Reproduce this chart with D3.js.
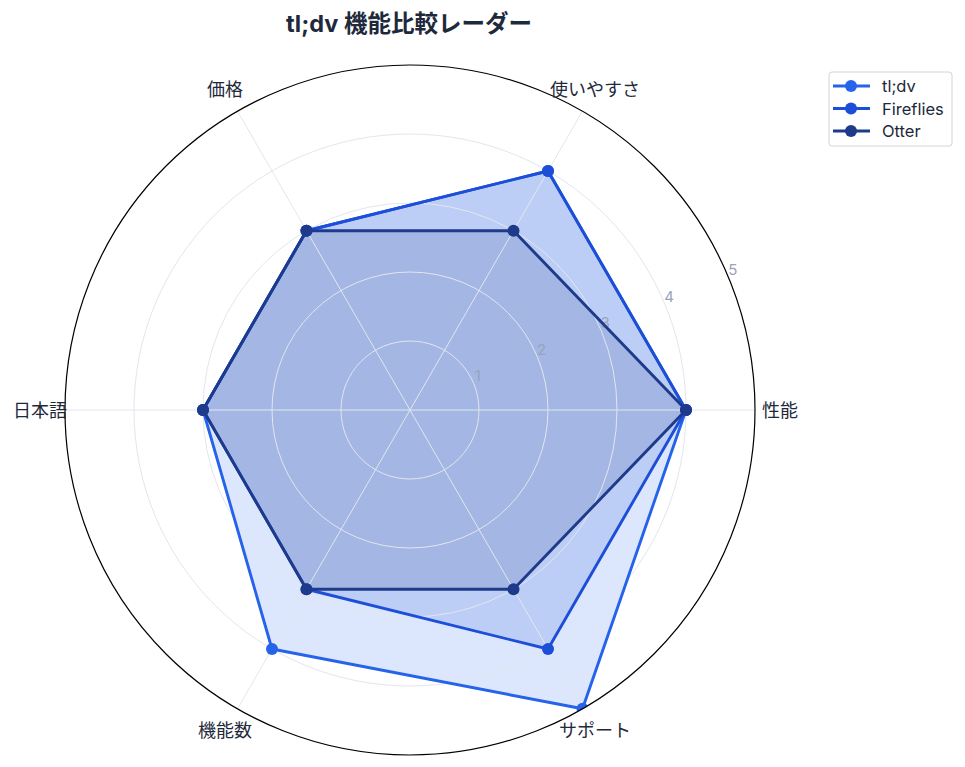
<!DOCTYPE html>
<html>
<head>
<meta charset="utf-8">
<script src="https://cdn.jsdelivr.net/npm/d3@7"></script>
<style>
  body { margin: 0; background: #fff; }
  text { font-family: Inter, "Noto Sans CJK JP", sans-serif; }
</style>
</head>
<body>
<div id="vis"></div>
<script>
const FRAME_WIDTH = 965;
const FRAME_HEIGHT = 767;
const CENTER = {x: 410, y: 410};
const RADIUS = 345;

// data
const CATEGORIES = ["性能", "使いやすさ", "価格", "日本語", "機能数", "サポート"];
const SERIES_NAMES = ["tl;dv", "Fireflies", "Otter"];
const TLDV_VALUES = [4, 4, 3, 3, 4, 5];
const FIREFLIES_VALUES = [4, 4, 3, 3, 3, 4];
const OTTER_VALUES = [4, 3, 3, 3, 3, 3];
const R_TICKS = [1, 2, 3, 4, 5];

const SERIES = [
  {name: SERIES_NAMES[0], values: TLDV_VALUES, color: "#2563eb"},
  {name: SERIES_NAMES[1], values: FIREFLIES_VALUES, color: "#1d4ed8"},
  {name: SERIES_NAMES[2], values: OTTER_VALUES, color: "#1e3a8a"}
];

const SVG = d3.select("#vis")
  .append("svg")
    .attr("width", FRAME_WIDTH)
    .attr("height", FRAME_HEIGHT);

const R_SCALE = d3.scaleLinear().domain([0, 5]).range([0, RADIUS]);

// category angle: counter-clockwise from 3 o'clock, converted to d3 (clockwise from 12)
const A_SCALE = d3.scaleLinear()
  .domain([0, CATEGORIES.length])
  .range([Math.PI / 2, Math.PI / 2 - 2 * Math.PI]);

const G = SVG.append("g")
  .attr("transform", "translate(" + CENTER.x + "," + CENTER.y + ")");

const pt = (i, v) => [R_SCALE(v) * Math.sin(A_SCALE(i)), -R_SCALE(v) * Math.cos(A_SCALE(i))];

G.append("clipPath").attr("id", "clip")
  .append("circle").attr("r", RADIUS);

const LINE = d3.lineRadial()
  .angle((d, i) => A_SCALE(i))
  .radius((d) => R_SCALE(d))
  .curve(d3.curveLinearClosed);

// fills (below grid)
G.append("g").attr("clip-path", "url(#clip)")
  .selectAll(".area")
  .data(SERIES)
  .enter()
  .append("path")
    .attr("d", (d) => LINE(d.values))
    .attr("fill", (d) => d.color)
    .attr("fill-opacity", 0.16)
    .attr("stroke", "none");

// grid rings and spokes
const GRID = G.append("g");
GRID.selectAll(".ring")
  .data(R_TICKS.slice(0, -1))
  .enter()
  .append("circle")
    .attr("r", (d) => R_SCALE(d))
    .attr("fill", "none")
    .attr("stroke", "#e2e6ef")
    .attr("stroke-width", 1);

GRID.selectAll(".spoke")
  .data(CATEGORIES)
  .enter()
  .append("line")
    .attr("x1", 0).attr("y1", 0)
    .attr("x2", (d, i) => pt(i, 5)[0])
    .attr("y2", (d, i) => pt(i, 5)[1])
    .attr("stroke", "#e2e6ef")
    .attr("stroke-width", 1);

// radial tick labels at 22.5 degrees
const LABEL_ANGLE = 22.5 * Math.PI / 180;
G.selectAll(".rtick")
  .data(R_TICKS)
  .enter()
  .append("text")
    .attr("x", (d) => R_SCALE(d) * Math.cos(LABEL_ANGLE) + 4)
    .attr("y", (d) => -R_SCALE(d) * Math.sin(LABEL_ANGLE) - 8)
    .attr("text-anchor", "middle")
    .attr("dominant-baseline", "central")
    .attr("font-size", "15px")
    .attr("fill", "#98a4b8")
    .text((d) => d);

// series lines and markers (above grid)
const DATA_G = G.append("g").attr("clip-path", "url(#clip)");
SERIES.forEach((s) => {
  DATA_G.append("path")
    .attr("d", LINE(s.values))
    .attr("fill", "none")
    .attr("stroke", s.color)
    .attr("stroke-width", 2.9)
    .attr("stroke-linejoin", "round");
  DATA_G.selectAll(null)
    .data(s.values)
    .enter()
    .append("circle")
      .attr("cx", (d, i) => pt(i, d)[0])
      .attr("cy", (d, i) => pt(i, d)[1])
      .attr("r", 6)
      .attr("fill", s.color);
});

// outer frame
G.append("circle")
  .attr("r", RADIUS)
  .attr("fill", "none")
  .attr("stroke", "#000")
  .attr("stroke-width", 1.2);

// category labels
G.selectAll(".cat")
  .data(CATEGORIES)
  .enter()
  .append("text")
    .attr("x", (d, i) => 370 * Math.sin(A_SCALE(i)))
    .attr("y", (d, i) => -370 * Math.cos(A_SCALE(i)))
    .attr("text-anchor", "middle")
    .attr("dominant-baseline", "central")
    .attr("font-size", "18px")
    .attr("fill", "#1e293b")
    .text((d) => d);

// title
SVG.append("text")
  .attr("x", 409)
  .attr("y", 23)
  .attr("text-anchor", "middle")
  .attr("dominant-baseline", "central")
  .attr("font-size", "23.5px")
  .attr("font-weight", "bold")
  .attr("fill", "#1e293b")
  .text("tl;dv 機能比較レーダー");

// legend
const LEGEND = SVG.append("g").attr("transform", "translate(829,72)");
LEGEND.append("rect")
  .attr("width", 123).attr("height", 74)
  .attr("rx", 3)
  .attr("fill", "#fff")
  .attr("stroke", "#d4d4d4");
SERIES.forEach((s, i) => {
  const y = 14 + i * 22.5;
  LEGEND.append("line")
    .attr("x1", 4).attr("x2", 41)
    .attr("y1", y).attr("y2", y)
    .attr("stroke", s.color).attr("stroke-width", 2.9);
  LEGEND.append("circle")
    .attr("cx", 22).attr("cy", y).attr("r", 6)
    .attr("fill", s.color);
  LEGEND.append("text")
    .attr("x", 53).attr("y", y)
    .attr("dominant-baseline", "central")
    .attr("font-size", "16.5px")
    .attr("fill", "#1e293b")
    .text(s.name);
});
</script>
</body>
</html>
